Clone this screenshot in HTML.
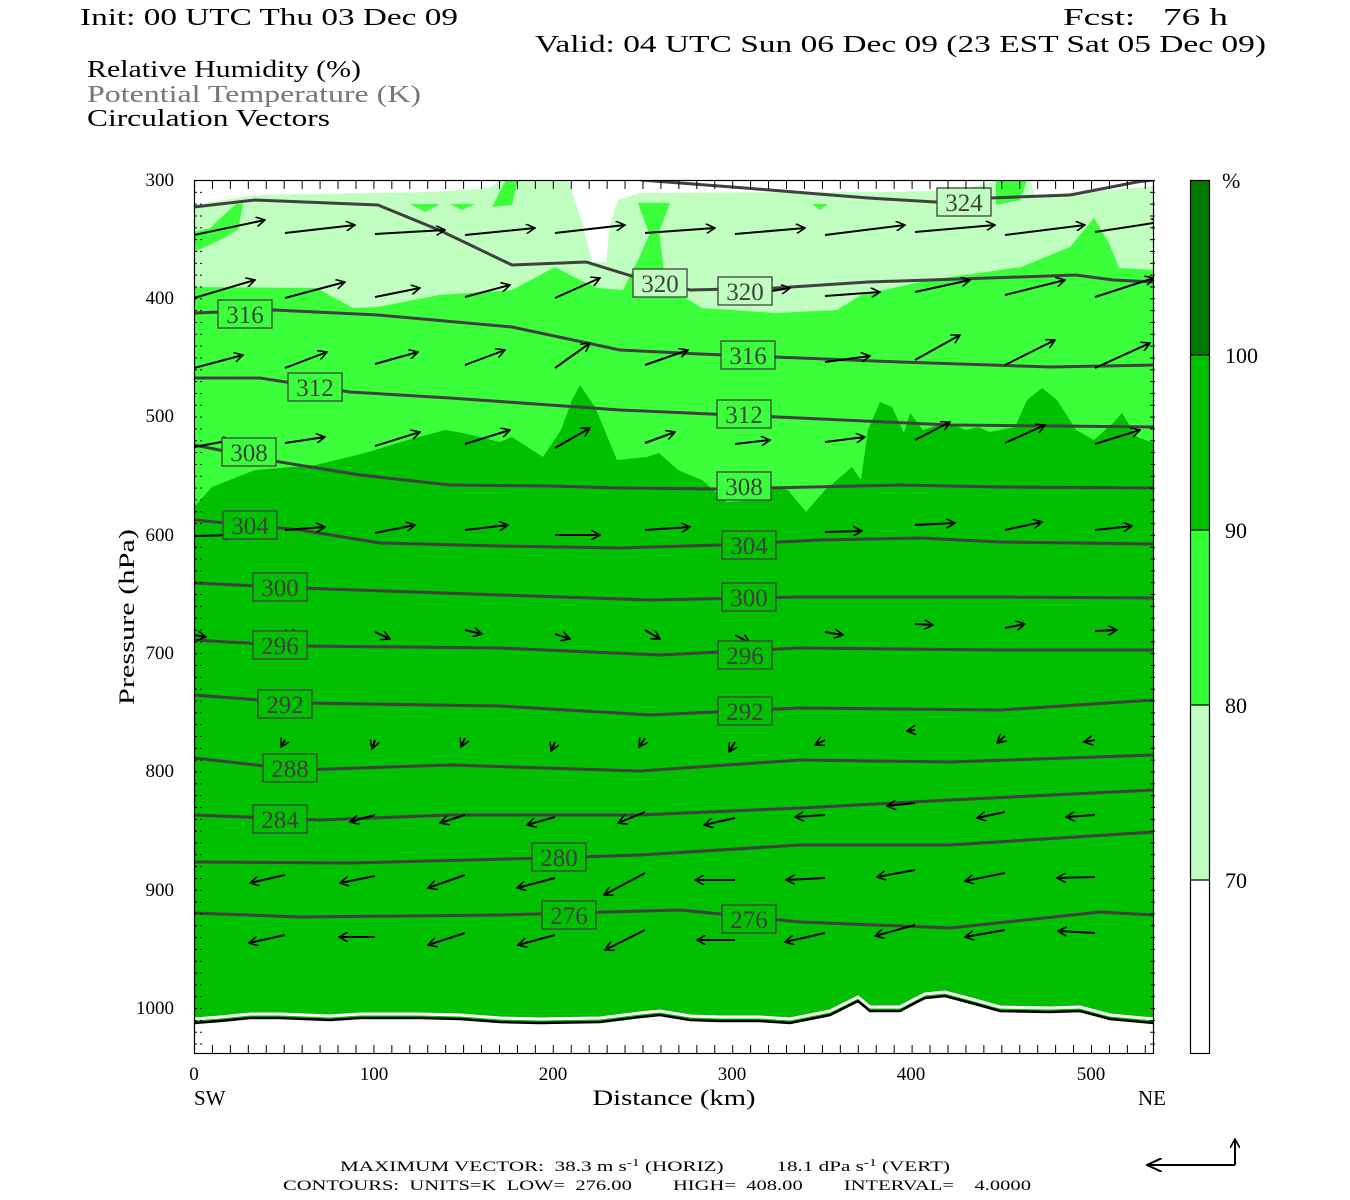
<!DOCTYPE html>
<html><head><meta charset="utf-8"><style>html,body{margin:0;padding:0;background:#fff}svg{display:block}text{font-family:"Liberation Serif",serif;white-space:pre}</style></head>
<body>
<svg width="1350" height="1200" viewBox="0 0 1350 1200" xmlns="http://www.w3.org/2000/svg" xml:space="preserve">
<defs>
<marker id="ah" markerWidth="10" markerHeight="10" refX="9" refY="5" orient="auto" markerUnits="userSpaceOnUse" viewBox="0 0 10 10"><path d="M0,0 L9,5 L0,10" fill="none" stroke="#000" stroke-width="1.6"/></marker>
<marker id="ahb" markerWidth="16" markerHeight="14" refX="15" refY="7" orient="auto" markerUnits="userSpaceOnUse" viewBox="0 0 16 14"><path d="M0,0 L15,7 L0,14" fill="none" stroke="#000" stroke-width="2"/></marker>
<pattern id="lt" x="0" y="180" width="10" height="11.83" patternUnits="userSpaceOnUse"><line x1="0" y1="0.5" x2="7" y2="0.5" stroke="#000" stroke-width="1"/></pattern>
<pattern id="tt" x="194" y="0" width="17.94" height="10" patternUnits="userSpaceOnUse"><line x1="0.5" y1="0" x2="0.5" y2="10" stroke="#000" stroke-width="1"/></pattern>
<clipPath id="pc"><rect x="194" y="180" width="960" height="874"/></clipPath>
</defs>

<text x="80" y="25" font-size="24" textLength="378" lengthAdjust="spacingAndGlyphs">Init: 00 UTC Thu 03 Dec 09</text>
<text x="1063" y="25" font-size="24" textLength="165" lengthAdjust="spacingAndGlyphs">Fcst:   76 h</text>
<text x="535" y="52" font-size="24" textLength="731" lengthAdjust="spacingAndGlyphs">Valid: 04 UTC Sun 06 Dec 09 (23 EST Sat 05 Dec 09)</text>
<text x="87" y="77" font-size="24" textLength="274" lengthAdjust="spacingAndGlyphs">Relative Humidity (%)</text>
<text x="87" y="102" font-size="24" fill="#777" textLength="334" lengthAdjust="spacingAndGlyphs">Potential Temperature (K)</text>
<text x="87" y="126" font-size="24" textLength="243" lengthAdjust="spacingAndGlyphs">Circulation Vectors</text>

<g clip-path="url(#pc)">
<rect x="194" y="180" width="960" height="874" fill="#fff"/>
<polygon fill="#c0ffc0" points="194,205 255,195 430,192 490,188 500,180 568,180 580,215 592,262 606,262 610,225 618,200 640,193 900,192 960,190 1000,180 1030,180 1035,195 1070,193 1110,190 1154,186 1154,1054 194,1054"/>
<polygon fill="#3cff3c" points="194,287 316,288 353,308 378,307 439,295 512,290 555,267 580,280 598,288 623,290 638,260 650,233 659,230 665,280 684,297 702,308 776,313 837,310 861,295 929,280 1021,267 1070,247 1094,218 1109,243 1119,268 1154,270 1154,1054 194,1054"/>
<polygon fill="#3cff3c" points="194,232 210,228 225,214 236,204 243,204 238,230 220,240 194,252"/>
<polygon fill="#3cff3c" points="638,203 670,203 660,230 650,236"/>
<polygon fill="#3cff3c" points="996,180 1027,180 1020,200 996,205"/>
<polygon fill="#3cff3c" points="506,180 518,180 512,205 492,207"/>
<polygon fill="#3cff3c" points="410,204 440,204 425,212"/><polygon fill="#3cff3c" points="450,204 475,204 462,210"/><polygon fill="#3cff3c" points="812,204 828,204 820,210"/>
<polygon fill="#00c000" points="194,507 212,487 255,470 316,465 365,453 408,440 445,430 463,433 500,442 512,437 543,457 561,430 572,400 580,385 595,407 617,460 647,457 659,453 678,470 702,480 727,502 757,500 776,487 788,490 806,512 825,490 837,480 852,467 861,480 868,430 880,402 892,407 904,433 910,413 923,430 947,422 966,430 978,427 990,432 1015,427 1027,400 1042,388 1057,400 1076,430 1094,440 1113,423 1122,413 1137,437 1154,443 1154,1054 194,1054"/>
<polygon fill="#fff" points="194,1022 220,1020 250,1017 280,1017 330,1019 360,1017 420,1017 460,1018 500,1021 540,1022 600,1021 640,1016 660,1014 690,1019 720,1020 760,1020 790,1022 830,1014 850,1004 858,1000 870,1010 900,1010 915,1002 925,997 945,995 975,1003 1000,1010 1050,1011 1080,1010 1110,1018 1154,1022 1154,1054 194,1054"/>
<polyline fill="none" stroke="#fff" stroke-width="3" points="194,1019 220,1017 250,1014 280,1014 330,1016 360,1014 420,1014 460,1015 500,1018 540,1019 600,1018 640,1013 660,1011 690,1016 720,1017 760,1017 790,1019 830,1011 850,1001 858,997 870,1007 900,1007 915,999 925,994 945,992 975,1000 1000,1007 1050,1008 1080,1007 1110,1015 1154,1019"/>
<polyline fill="none" stroke="#000" stroke-width="2.5" points="194,1023 220,1021 250,1018 280,1018 330,1020 360,1018 420,1018 460,1019 500,1022 540,1023 600,1022 640,1017 660,1015 690,1020 720,1021 760,1021 790,1023 830,1015 850,1005 858,1001 870,1011 900,1011 915,1003 925,998 945,996 975,1004 1000,1011 1050,1012 1080,1011 1110,1019 1154,1023"/>

<g fill="none" stroke="#404040" stroke-width="3">
<polyline points="194,207 255,200 378,205 439,230 512,265 586,262 635,277 690,290 776,288 868,282 960,279 1076,275 1113,280 1154,282"/>
<polyline points="641,180 745,188 868,198 935,202 990,198 1070,195 1137,182 1154,180"/>
<polyline points="194,313 274,310 378,315 512,327 620,350 700,354 800,358 900,362 1050,367 1154,365"/>
<polyline points="194,378 260,378 350,392 450,398 550,405 620,410 800,418 950,425 1154,427"/>
<polyline points="194,445 280,462 360,475 450,485 550,486 620,488 720,489 900,485 1000,487 1154,488"/>
<polyline points="194,520 300,530 380,543 500,546 620,548 720,545 820,540 920,538 1000,542 1154,544"/>
<polyline points="194,583 300,588 500,595 650,600 800,597 1000,597 1154,598"/>
<polyline points="194,640 300,646 500,648 660,655 800,648 1000,650 1154,650"/>
<polyline points="194,695 300,703 500,706 650,715 800,708 1000,710 1154,700"/>
<polyline points="194,758 300,770 450,765 640,771 800,760 950,762 1154,755"/>
<polyline points="194,815 320,820 450,815 640,815 800,808 950,800 1154,790"/>
<polyline points="194,862 350,863 550,858 640,855 800,845 950,845 1154,832"/>
<polyline points="194,913 300,917 500,915 680,910 800,922 950,928 1100,912 1154,915"/>
</g>

<g stroke="#000" stroke-width="2" marker-end="url(#ah)">
<line x1="194" y1="235" x2="265" y2="220"/><line x1="285" y1="233" x2="355" y2="225"/><line x1="375" y1="234" x2="445" y2="230"/><line x1="465" y1="235" x2="535" y2="228"/><line x1="555" y1="233" x2="625" y2="225"/><line x1="645" y1="233" x2="715" y2="228"/><line x1="735" y1="234" x2="805" y2="228"/><line x1="825" y1="235" x2="905" y2="225"/><line x1="915" y1="232" x2="995" y2="225"/><line x1="1005" y1="235" x2="1085" y2="225"/><line x1="1095" y1="232" x2="1160" y2="222"/>
<line x1="194" y1="298" x2="255" y2="280"/><line x1="285" y1="298" x2="345" y2="282"/><line x1="375" y1="297" x2="420" y2="288"/><line x1="465" y1="297" x2="510" y2="285"/><line x1="555" y1="298" x2="600" y2="278"/><line x1="645" y1="295" x2="685" y2="285"/><line x1="735" y1="297" x2="790" y2="288"/><line x1="825" y1="296" x2="880" y2="292"/><line x1="915" y1="292" x2="970" y2="280"/><line x1="1005" y1="295" x2="1065" y2="280"/><line x1="1095" y1="297" x2="1154" y2="278"/>
<line x1="194" y1="368" x2="243" y2="355"/><line x1="285" y1="368" x2="327" y2="352"/><line x1="375" y1="364" x2="418" y2="352"/><line x1="465" y1="365" x2="505" y2="350"/><line x1="555" y1="368" x2="590" y2="343"/><line x1="645" y1="365" x2="688" y2="350"/><line x1="735" y1="364" x2="775" y2="358"/><line x1="825" y1="362" x2="870" y2="356"/><line x1="915" y1="360" x2="960" y2="335"/><line x1="1005" y1="365" x2="1055" y2="340"/><line x1="1095" y1="368" x2="1150" y2="343"/>
<line x1="194" y1="447" x2="232" y2="440"/><line x1="285" y1="443" x2="325" y2="437"/><line x1="375" y1="446" x2="420" y2="432"/><line x1="465" y1="444" x2="510" y2="430"/><line x1="555" y1="448" x2="590" y2="428"/><line x1="645" y1="443" x2="675" y2="432"/><line x1="735" y1="444" x2="770" y2="440"/><line x1="825" y1="442" x2="865" y2="437"/><line x1="915" y1="440" x2="950" y2="422"/><line x1="1005" y1="443" x2="1045" y2="425"/><line x1="1095" y1="444" x2="1140" y2="430"/>
<line x1="194" y1="536" x2="234" y2="535"/><line x1="285" y1="530" x2="325" y2="527"/><line x1="375" y1="533" x2="415" y2="525"/><line x1="465" y1="530" x2="508" y2="525"/><line x1="555" y1="535" x2="600" y2="535"/><line x1="645" y1="530" x2="690" y2="527"/><line x1="735" y1="540" x2="775" y2="540"/><line x1="825" y1="532" x2="862" y2="531"/><line x1="915" y1="525" x2="955" y2="523"/><line x1="1005" y1="530" x2="1042" y2="522"/><line x1="1095" y1="530" x2="1132" y2="526"/>
<line x1="194" y1="635" x2="206" y2="637"/><line x1="285" y1="630" x2="298" y2="637"/><line x1="375" y1="632" x2="390" y2="639"/><line x1="465" y1="630" x2="482" y2="634"/><line x1="555" y1="634" x2="570" y2="639"/><line x1="645" y1="630" x2="660" y2="639"/><line x1="735" y1="635" x2="750" y2="643"/><line x1="825" y1="632" x2="843" y2="635"/><line x1="915" y1="624" x2="933" y2="625"/><line x1="1005" y1="628" x2="1025" y2="624"/><line x1="1095" y1="631" x2="1117" y2="630"/>
<line x1="285" y1="740" x2="281" y2="747"/><line x1="375" y1="740" x2="372" y2="749"/><line x1="465" y1="738" x2="461" y2="747"/><line x1="555" y1="742" x2="551" y2="751"/><line x1="645" y1="738" x2="639" y2="747"/><line x1="735" y1="742" x2="729" y2="752"/><line x1="825" y1="740" x2="815" y2="745"/><line x1="915" y1="730" x2="907" y2="731"/><line x1="1005" y1="736" x2="997" y2="743"/><line x1="1095" y1="740" x2="1084" y2="742"/>
<line x1="285" y1="815" x2="265" y2="818"/><line x1="375" y1="815" x2="350" y2="822"/><line x1="465" y1="815" x2="440" y2="823"/><line x1="555" y1="817" x2="527" y2="825"/><line x1="645" y1="812" x2="618" y2="823"/><line x1="735" y1="818" x2="704" y2="825"/><line x1="825" y1="815" x2="795" y2="817"/><line x1="915" y1="803" x2="887" y2="806"/><line x1="1005" y1="812" x2="977" y2="818"/><line x1="1095" y1="815" x2="1066" y2="817"/>
<line x1="285" y1="875" x2="250" y2="883"/><line x1="375" y1="876" x2="340" y2="883"/><line x1="465" y1="875" x2="428" y2="888"/><line x1="555" y1="878" x2="517" y2="888"/><line x1="645" y1="873" x2="604" y2="895"/><line x1="735" y1="880" x2="695" y2="880"/><line x1="825" y1="878" x2="786" y2="880"/><line x1="915" y1="870" x2="877" y2="877"/><line x1="1005" y1="873" x2="965" y2="881"/><line x1="1095" y1="877" x2="1057" y2="878"/>
<line x1="285" y1="935" x2="249" y2="943"/><line x1="375" y1="937" x2="339" y2="937"/><line x1="465" y1="933" x2="428" y2="945"/><line x1="555" y1="935" x2="518" y2="945"/><line x1="645" y1="930" x2="605" y2="950"/><line x1="735" y1="940" x2="697" y2="940"/><line x1="825" y1="933" x2="785" y2="942"/><line x1="915" y1="925" x2="875" y2="936"/><line x1="1005" y1="930" x2="965" y2="937"/><line x1="1095" y1="933" x2="1058" y2="931"/>
</g>

<g stroke="#404040" stroke-width="1.3">
<rect x="218" y="300" width="54" height="28" fill="#3cff3c"/>
<rect x="288" y="373" width="54" height="28" fill="#3cff3c"/>
<rect x="222" y="438" width="54" height="28" fill="#3cff3c"/>
<rect x="223" y="511" width="54" height="28" fill="#00c000"/>
<rect x="253" y="573" width="54" height="28" fill="#00c000"/>
<rect x="253" y="631" width="54" height="28" fill="#00c000"/>
<rect x="258" y="690" width="54" height="28" fill="#00c000"/>
<rect x="263" y="754" width="54" height="28" fill="#00c000"/>
<rect x="253" y="805" width="54" height="28" fill="#00c000"/>
<rect x="532" y="843" width="54" height="28" fill="#00c000"/>
<rect x="542" y="901" width="54" height="28" fill="#00c000"/>
<rect x="633" y="269" width="54" height="28" fill="#c0ffc0"/>
<rect x="718" y="277" width="54" height="28" fill="#c0ffc0"/>
<rect x="937" y="188" width="54" height="28" fill="#c0ffc0"/>
<rect x="721" y="341" width="54" height="28" fill="#3cff3c"/>
<rect x="717" y="400" width="54" height="28" fill="#3cff3c"/>
<rect x="717" y="472" width="54" height="28" fill="#3cff3c"/>
<rect x="722" y="531" width="54" height="28" fill="#00c000"/>
<rect x="722" y="583" width="54" height="28" fill="#00c000"/>
<rect x="718" y="641" width="54" height="28" fill="#00c000"/>
<rect x="718" y="697" width="54" height="28" fill="#00c000"/>
<rect x="722" y="905" width="54" height="28" fill="#00c000"/>
</g>
<g font-size="25" fill="#404040" text-anchor="middle">
<text x="245" y="323">316</text><text x="315" y="396">312</text><text x="249" y="461">308</text><text x="250" y="534">304</text><text x="280" y="596">300</text><text x="280" y="654">296</text><text x="285" y="713">292</text><text x="290" y="777">288</text><text x="280" y="828">284</text><text x="559" y="866">280</text><text x="569" y="924">276</text><text x="660" y="292">320</text><text x="745" y="300">320</text><text x="964" y="211">324</text><text x="748" y="364">316</text><text x="744" y="423">312</text><text x="744" y="495">308</text><text x="749" y="554">304</text><text x="749" y="606">300</text><text x="745" y="664">296</text><text x="745" y="720">292</text><text x="749" y="928">276</text>
</g>
</g>

<rect x="194" y="180" width="8" height="874" fill="url(#lt)"/>
<rect x="1147" y="180" width="8" height="874" fill="url(#lt)"/>
<rect x="194" y="180" width="960" height="9" fill="url(#tt)"/>
<rect x="194" y="1045" width="960" height="9" fill="url(#tt)"/>
<rect x="194.5" y="180.5" width="959" height="873" fill="none" stroke="#000" stroke-width="1.2"/>

<g font-size="19" text-anchor="end">
<text x="174" y="186">300</text><text x="174" y="304">400</text><text x="174" y="422">500</text><text x="174" y="541">600</text><text x="174" y="659">700</text><text x="174" y="777">800</text><text x="174" y="896">900</text><text x="174" y="1014">1000</text>
</g>
<g font-size="19" text-anchor="middle">
<text x="194" y="1080">0</text><text x="374" y="1080">100</text><text x="553" y="1080">200</text><text x="732" y="1080">300</text><text x="911" y="1080">400</text><text x="1091" y="1080">500</text>
</g>
<text x="194" y="1105" font-size="21">SW</text>
<text x="1138" y="1105" font-size="21">NE</text>
<text x="674" y="1105" font-size="22" text-anchor="middle" textLength="163" lengthAdjust="spacingAndGlyphs">Distance (km)</text>
<text transform="translate(134,617) rotate(-90)" font-size="22" text-anchor="middle" textLength="176" lengthAdjust="spacingAndGlyphs">Pressure (hPa)</text>

<rect x="1190" y="180" width="20" height="175" fill="#007800"/>
<rect x="1190" y="355" width="20" height="175" fill="#00c000"/>
<rect x="1190" y="530" width="20" height="175" fill="#33ff33"/>
<rect x="1190" y="705" width="20" height="175" fill="#c0ffc0"/>
<rect x="1190" y="880" width="20" height="174" fill="#fff"/>
<g stroke="#000" stroke-width="1.2"><line x1="1190" y1="355" x2="1210" y2="355"/><line x1="1190" y1="530" x2="1210" y2="530"/><line x1="1190" y1="705" x2="1210" y2="705"/><line x1="1190" y1="880" x2="1210" y2="880"/></g>
<rect x="1190.5" y="180.5" width="19" height="873" fill="none" stroke="#000" stroke-width="1.2"/>
<g font-size="22"><text x="1222" y="188">%</text><text x="1225" y="363">100</text><text x="1225" y="538">90</text><text x="1225" y="713">80</text><text x="1225" y="888">70</text></g>

<text x="340" y="1171" font-size="15" textLength="610" lengthAdjust="spacingAndGlyphs">MAXIMUM VECTOR:  38.3 m s<tspan dy="-5" font-size="11">-1</tspan><tspan dy="5"> (HORIZ)          18.1 dPa s</tspan><tspan dy="-5" font-size="11">-1</tspan><tspan dy="5"> (VERT)</tspan></text>
<text x="283" y="1190" font-size="15" textLength="748" lengthAdjust="spacingAndGlyphs">CONTOURS:  UNITS=K  LOW=  276.00        HIGH=  408.00        INTERVAL=    4.0000</text>
<g stroke="#000" stroke-width="2" fill="none">
<line x1="1235" y1="1165" x2="1147" y2="1165" marker-end="url(#ahb)"/>
<line x1="1235" y1="1165" x2="1235" y2="1139" marker-end="url(#ah)"/>
</g>
</svg>
</body></html>
